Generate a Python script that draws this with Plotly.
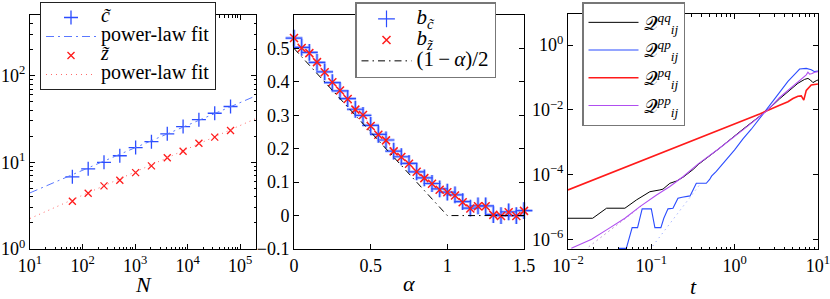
import numpy as np
import plotly.graph_objects as go

W, H = 830, 299
FONT = "Liberation Serif, Times New Roman, serif"

# ---------------- panel 1 : growth with N ----------------
N = [64, 128, 256, 512, 1024, 2048, 4096, 8192, 16384, 32768, 65536]
c_tilde = [6.8, 8.4, 10.0, 11.9, 14.8, 17.3, 21.3, 25.8, 31.0, 36.8, 44.0]
z_tilde = [3.55, 4.4, 5.35, 6.2, 7.6, 9.1, 11.3, 13.4, 16.6, 19.5, 23.3]
N_fit = [10, 2e5]
c_fit = [4.44, 58.5]
z_fit = [2.25, 32.0]

# ---------------- panel 2 : exponents vs alpha ----------------
alpha = [0.0, 0.05, 0.1, 0.15, 0.2, 0.25, 0.3, 0.35, 0.4, 0.45, 0.5, 0.55, 0.6, 0.65,
         0.7, 0.75, 0.8, 0.85, 0.9, 0.95, 1.0, 1.05, 1.1, 1.15, 1.2, 1.25, 1.3, 1.35,
         1.4, 1.45, 1.5]
b_c = [0.531, 0.503, 0.488, 0.458, 0.430, 0.398, 0.373, 0.350, 0.318, 0.300, 0.270,
       0.243, 0.226, 0.193, 0.176, 0.156, 0.131, 0.113, 0.096, 0.080, 0.070, 0.062,
       0.042, 0.022, 0.029, 0.029, 0.003, 0.000, 0.011, 0.000, 0.015]
b_z = [0.531, 0.501, 0.486, 0.459, 0.429, 0.399, 0.374, 0.349, 0.317, 0.301, 0.268,
       0.242, 0.225, 0.192, 0.175, 0.155, 0.131, 0.112, 0.095, 0.077, 0.070, 0.060,
       0.040, 0.021, 0.028, 0.028, 0.002, -0.001, 0.010, -0.001, 0.014]
alpha_th = [0.0, 1.0, 1.5]
b_th = [0.5, 0.0, 0.0]

# ---------------- panel 3 : correlations vs t (log10 values) ----------------
qq_log_t = [-2.0, -1.704, -1.537, -1.317, -1.176, -1.017, -0.897, -0.86, -0.777, -0.697,
            -0.617, -0.497, -0.437, -0.198, 0.10, 0.40, 0.54, 0.64, 0.70, 0.76, 0.84,
            0.88, 0.91, 0.94, 0.98, 1.0]
qq_log_Q = [-5.35, -5.35, -5.04, -5.04, -4.78, -4.53, -4.475, -4.45, -4.27, -4.20,
            -4.08, -3.84, -3.69, -3.22, -2.60, -2.0, -1.66, -1.45, -1.30, -1.18, -1.06,
            -1.03, -1.08, -1.16, -1.10, -1.08]
qp_log_t = [-1.40, -1.30, -1.23, -1.165, -1.11, -1.00, -0.957, -0.885, -0.85, -0.80,
            -0.74, -0.68, -0.63, -0.57, -0.535, -0.46, -0.34, -0.30, -0.277, -0.22,
            -0.157, -0.10, -0.05, 0.0, 0.1, 0.2, 0.35, 0.54, 0.64, 0.74, 0.78, 0.86,
            0.92, 0.96, 1.0]
qp_log_Q = [-6.28, -6.28, -5.64, -5.64, -5.06, -5.06, -5.64, -5.64, -5.35, -5.06,
            -5.04, -4.73, -4.70, -4.68, -4.66, -4.27, -4.27, -4.15, -4.05, -3.90,
            -3.72, -3.55, -3.40, -3.24, -2.90, -2.60, -2.10, -1.45, -1.12, -0.85,
            -0.74, -0.72, -0.76, -0.82, -0.80]
pq_log_t = [-2.0, 0.30, 0.54, 0.64, 0.70, 0.76, 0.80, 0.83, 0.86, 0.92, 1.0]
pq_log_Q = [-4.475, -2.13, -1.86, -1.75, -1.65, -1.58, -1.57, -1.70, -1.40, -1.23, -1.20]
pp_log_t = [-1.96, -1.716, -1.537, -1.317, -1.137, -0.937, -0.777, -0.617, -0.437,
            -0.198, 0.10, 0.40, 0.54, 0.64, 0.74, 0.82, 0.86, 0.88, 0.90, 0.93, 0.96, 1.0]
pp_log_Q = [-6.28, -6.0, -5.71, -5.35, -4.99, -4.63, -4.37, -4.06, -3.67, -3.22,
            -2.62, -2.0, -1.62, -1.40, -1.18, -1.02, -0.92, -0.84, -0.90, -0.88, -0.84, -0.82]
pp_ref_log_t = [-1.75, -1.10]
pp_ref_log_Q = [-6.23, -4.93]
qp_ref_log_t = [-1.02, -0.40]
qp_ref_log_Q = [-6.33, -4.25]

BLUE = "#2b4cff"
LBLUE = "#5a78ff"
RED = "#ff1a1a"
LRED = "#ff6a6a"
PURPLE = "#b04ef0"

def p10(a):
    return list(np.power(10.0, np.array(a)))

def big(txt, size):
    return '<span style="font-size:%dpx">%s</span>' % (size, txt)

fig = go.Figure()

# ---- panel 1 traces
fig.add_trace(go.Scatter(x=N, y=c_tilde, mode="markers", name=big("<i>c\u0303</i>", 20),
                         marker=dict(symbol="cross-thin", size=10, line=dict(width=1.3, color=BLUE)),
                         xaxis="x", yaxis="y", legend="legend"))
fig.add_trace(go.Scatter(x=N_fit, y=c_fit, mode="lines", name=big("power-law fit", 20),
                         line=dict(color=LBLUE, width=1, dash="8px,4px,2px,4px"),
                         xaxis="x", yaxis="y", legend="legend"))
fig.add_trace(go.Scatter(x=N, y=z_tilde, mode="markers", name=big("<i>z\u0303</i>", 20),
                         marker=dict(symbol="x-thin", size=7, line=dict(width=1.3, color=RED)),
                         xaxis="x", yaxis="y", legend="legend"))
fig.add_trace(go.Scatter(x=N_fit, y=z_fit, mode="lines", name=big("power-law fit", 20),
                         line=dict(color=LRED, width=1, dash="1px,4px"),
                         xaxis="x", yaxis="y", legend="legend"))

# ---- panel 2 traces
fig.add_trace(go.Scatter(x=alpha, y=b_z, mode="lines", showlegend=False,
                         line=dict(color=LRED, width=1, dash="1px,2px"),
                         xaxis="x2", yaxis="y2"))
fig.add_trace(go.Scatter(x=alpha, y=b_c, mode="markers", showlegend=False, cliponaxis=False,
                         marker=dict(symbol="cross-thin", size=12, line=dict(width=3, color="#b4c0ff")),
                         xaxis="x2", yaxis="y2"))
fig.add_trace(go.Scatter(x=alpha, y=b_c, mode="markers",
                         name=big("<i>b</i><sub><i>c\u0303</i></sub>", 21),
                         cliponaxis=False,
                         marker=dict(symbol="cross-thin", size=12, line=dict(width=1.2, color=BLUE)),
                         xaxis="x2", yaxis="y2", legend="legend2"))
fig.add_trace(go.Scatter(x=alpha, y=b_z, mode="markers",
                         name=big("<i>b</i><sub><i>z\u0303</i></sub>", 21),
                         cliponaxis=False,
                         marker=dict(symbol="x-thin", size=8, line=dict(width=1.5, color=RED)),
                         xaxis="x2", yaxis="y2", legend="legend2"))
fig.add_trace(go.Scatter(x=alpha_th, y=b_th, mode="lines",
                         name=big("(1\u2009\u2212\u2009<i>\u03b1</i>)/2", 21),
                         line=dict(color="black", width=1, dash="7px,4px,1.5px,4px"),
                         xaxis="x2", yaxis="y2", legend="legend2"))

# ---- panel 3 traces
fig.add_trace(go.Scatter(x=p10(pp_ref_log_t), y=p10(pp_ref_log_Q), mode="lines", showlegend=False,
                         line=dict(color="#8a4aa8", width=1, dash="1px,4px"), xaxis="x3", yaxis="y3"))
fig.add_trace(go.Scatter(x=p10(qp_ref_log_t), y=p10(qp_ref_log_Q), mode="lines", showlegend=False,
                         line=dict(color="#7f95ff", width=1, dash="1px,4px"), xaxis="x3", yaxis="y3"))
fig.add_trace(go.Scatter(x=p10(qq_log_t), y=p10(qq_log_Q), mode="lines",
                         name="\U0001D4AC<sup><i>qq</i></sup><sub><i>ij</i></sub>",
                         line=dict(color="black", width=1), xaxis="x3", yaxis="y3", legend="legend3"))
fig.add_trace(go.Scatter(x=p10(qp_log_t), y=p10(qp_log_Q), mode="lines",
                         name="\U0001D4AC<sup><i>qp</i></sup><sub><i>ij</i></sub>",
                         line=dict(color=BLUE, width=1.1), xaxis="x3", yaxis="y3", legend="legend3"))
fig.add_trace(go.Scatter(x=p10(pq_log_t), y=p10(pq_log_Q), mode="lines",
                         name="\U0001D4AC<sup><i>pq</i></sup><sub><i>ij</i></sub>",
                         line=dict(color=RED, width=1.6), xaxis="x3", yaxis="y3", legend="legend3"))
fig.add_trace(go.Scatter(x=p10(pp_log_t), y=p10(pp_log_Q), mode="lines",
                         name="\U0001D4AC<sup><i>pp</i></sup><sub><i>ij</i></sub>",
                         line=dict(color=PURPLE, width=1.1), xaxis="x3", yaxis="y3", legend="legend3"))

# ---- axes
ydom = [1 - 249 / H, 1 - 15 / H]
tickfont = dict(family=FONT, size=18, color="black")

def ax(domain, anchor, **kw):
    d = dict(domain=domain, anchor=anchor, showline=True, linecolor="black", linewidth=1,
             mirror="ticks", ticks="inside", ticklen=5, tickcolor="black", showgrid=False,
             zeroline=False, tickfont=tickfont, automargin=False, ticklabeloverflow="allow")
    d.update(kw)
    return d

def minor_log(lo, hi):
    vals = []
    for e in range(lo, hi):
        for m in range(2, 10):
            vals.append(m * 10.0 ** e)
    return dict(ticks="inside", ticklen=2.5, tickcolor="black", tickvals=vals, showgrid=False)

sup = lambda e: "10<sup>%s</sup>" % (str(e).replace("-", "\u2212"))

fig.update_layout(
    xaxis=ax([30 / W, 256 / W], "y", type="log", range=[1, np.log10(2e5)],
             tickvals=[1e1, 1e2, 1e3, 1e4, 1e5], ticktext=[sup(e) for e in range(1, 6)],
             minor=minor_log(1, 6)),
    yaxis=ax(ydom, "x", type="log", range=[0, np.log10(500)],
             tickvals=[1, 10, 100], ticktext=[sup(e) for e in range(0, 3)],
             minor=minor_log(0, 3)),
    xaxis2=ax([294 / W, 524 / W], "y2", range=[0, 1.5], tickvals=[0, 0.5, 1, 1.5],
              ticktext=["0", "0.5", "1", "1.5"]),
    yaxis2=ax(ydom, "x2", range=[-0.1, 0.6], tickvals=[-0.1, 0, 0.1, 0.2, 0.3, 0.4, 0.5],
              ticktext=["\u22120.1", "0", "0.1", "0.2", "0.3", "0.4", "0.5"]),
    xaxis3=ax([568 / W, 818 / W], "y3", type="log", range=[-2, 1.0008],
              tickvals=[1e-2, 1e-1, 1, 10], ticktext=[sup(e) for e in range(-2, 2)],
              minor=minor_log(-2, 1)),
    yaxis3=ax([1 - 249 / H, 1 - 14 / H], "x3", type="log", range=[-6.3, 0.96],
              tickvals=[1e-6, 1e-4, 1e-2, 1], ticktext=[sup(e) for e in (-6, -4, -2, 0)]),
)

def legfont(s):
    return dict(family=FONT, size=s, color="black")

fig.update_layout(
    legend=dict(x=40 / W, y=1 - 2 / H, xanchor="left", yanchor="top", bgcolor="white",
                bordercolor="#222222", borderwidth=1, font=legfont(12.3), itemwidth=50,
                tracegroupgap=0),
    legend2=dict(x=355 / W, y=1 - 2 / H, xanchor="left", yanchor="top", bgcolor="white",
                 bordercolor="#777777", borderwidth=1.5, font=legfont(13.8), itemwidth=50,
                 tracegroupgap=0),
    legend3=dict(x=582 / W, y=1 - 2 / H, xanchor="left", yanchor="top", bgcolor="white",
                 bordercolor="#777777", borderwidth=1.5, font=legfont(19), itemwidth=50,
                 tracegroupgap=0),
)

titlefont = dict(family=FONT, size=22, color="black")
fig.update_layout(annotations=[
    dict(text="<i>N</i>", x=143 / W, y=1 - 284 / H, xref="paper", yref="paper",
         showarrow=False, xanchor="center", yanchor="middle", font=titlefont),
    dict(text="<i>\u03b1</i>", x=409 / W, y=1 - 283 / H, xref="paper", yref="paper",
         showarrow=False, xanchor="center", yanchor="middle", font=titlefont),
    dict(text="<i>t</i>", x=693 / W, y=1 - 286 / H, xref="paper", yref="paper",
         showarrow=False, xanchor="center", yanchor="middle", font=titlefont),
])

fig.update_layout(width=W, height=H, margin=dict(l=0, r=0, t=0, b=0),
                  paper_bgcolor="white", plot_bgcolor="white", showlegend=True)

fig.write_html("out.html", config={"displayModeBar": False},
               post_script="document.body.style.margin='0px';document.body.style.overflow='hidden';")
